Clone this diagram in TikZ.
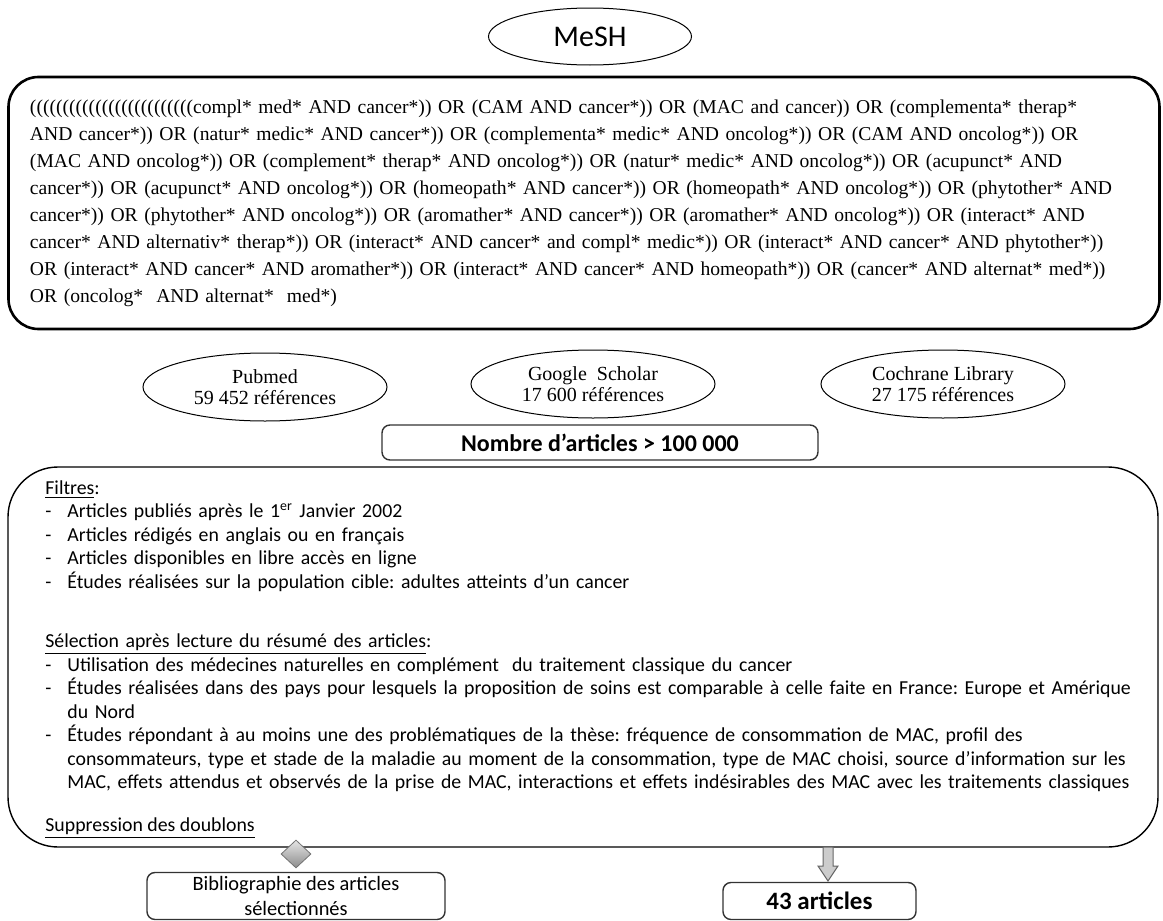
\documentclass[tikz,border=0pt]{standalone}
\usepackage{fontspec}
\setmainfont{Liberation Serif}
\newfontfamily\calibri{Carlito}
\usetikzlibrary{shapes.geometric}
\frenchspacing
\newlength{\qw}
\setlength{\qw}{554pt}
\newcommand{\qline}[1]{\makebox[\qw][s]{#1}}
\newcommand{\itm}{\makebox[11pt][l]{-}}
\newcommand{\ind}{\hspace*{11pt}}

\begin{document}
\begin{tikzpicture}
          [x=0.5pt,y=-0.5pt,
          oval/.style={shape=ellipse,draw=black,line width=0.5pt,inner sep=-8pt},
          source/.style={oval,minimum width=122pt,minimum height=34pt,align=center,font=\fontsize{10}{10.5}\selectfont},
          query/.style={draw=black,rounded corners=15pt,line width=1.3pt,inner xsep=10.75pt,inner ysep=0pt,minimum height=126pt,text width=554pt,align=left,font=\fontsize{9.8}{13.5}\selectfont},
          box/.style={draw=black!80,rounded corners=4pt,line width=0.7pt},
          arc/.style={draw=black!60,fill=black!20,line width=0.5pt}]

            \useasboundingbox (0,0) rectangle (1163,921);

            \node (mesh) [oval,minimum width=101.5pt,minimum height=28.5pt,inner sep=0pt,font=\calibri\fontsize{15}{17}\selectfont] at (590,36.5) {MeSH};

            \node (equation) [query] at (584,203) {%
\qline{(((((((((((((((((((((((((compl* med* AND cancer*)) OR (CAM AND cancer*)) OR (MAC and cancer)) OR (complementa* therap*}\\
\qline{AND cancer*)) OR (natur* medic* AND cancer*)) OR (complementa* medic* AND oncolog*)) OR (CAM AND oncolog*)) OR}\\
\qline{(MAC AND oncolog*)) OR (complement* therap* AND oncolog*)) OR (natur* medic* AND oncolog*)) OR (acupunct* AND}\\
\qline{cancer*)) OR (acupunct* AND oncolog*)) OR (homeopath* AND cancer*)) OR (homeopath* AND oncolog*)) OR (phytother* AND}\\
\qline{cancer*)) OR (phytother* AND oncolog*)) OR (aromather* AND cancer*)) OR (aromather* AND oncolog*)) OR (interact* AND}\\
\qline{cancer* AND alternativ* therap*)) OR (interact* AND cancer* and compl* medic*)) OR (interact* AND cancer* AND phytother*))}\\
\qline{OR (interact* AND cancer* AND aromather*)) OR (interact* AND cancer* AND homeopath*)) OR (cancer* AND alternat* med*))}\\
OR (oncolog*\ \ AND alternat*\ \ med*)};

            \node (pubmed) [source] at (265,387) {Pubmed\\59 452 références};
            \node (scholar) [source] at (593,384) {Google\ \ Scholar\\17 600 références};
            \node (cochrane) [source] at (943,384) {Cochrane Library\\27 175 références};

            \node (total) [box,minimum width=218pt,minimum height=17.5pt,inner sep=0pt,font=\calibri\bfseries\fontsize{12}{14}\selectfont] at (600,442.5) {Nombre d’articles > 100 000};

            \node (filtres) [draw=black,rounded corners=25pt,line width=0.7pt,minimum width=575pt,minimum height=190pt] at (583,657) {};
            \node (criteres) [anchor=north west,inner sep=0pt,text width=560pt,align=left,font=\calibri\fontsize{9.9}{11.75}\selectfont] at (45,480) {%
\underline{Filtres}:\\
\itm Articles publiés après le 1\textsuperscript{er} Janvier 2002\\
\itm Articles rédigés en anglais ou en français\\
\itm Articles disponibles en libre accès en ligne\\
\itm Études réalisées sur la population cible: adultes atteints d’un cancer\\[18pt]
\underline{Sélection après lecture du résumé des articles}:\\
\itm Utilisation des médecines naturelles en complément\ \ du traitement classique du cancer\\
\itm Études réalisées dans des pays pour lesquels la proposition de soins est comparable à celle faite en France: Europe et Amérique\\
\ind du Nord\\
\itm Études répondant à au moins une des problématiques de la thèse: fréquence de consommation de MAC, profil des\\
\ind consommateurs, type et stade de la maladie au moment de la consommation, type de MAC choisi, source d’information sur les\\
\ind MAC, effets attendus et observés de la prise de MAC, interactions et effets indésirables des MAC avec les traitements classiques};
            \node (doublons) [anchor=base west,inner sep=0pt,font=\calibri\fontsize{9.9}{11.75}\selectfont] at (45,831) {\underline{Suppression des doublons}};

            \node (biblio) [box,minimum width=149pt,minimum height=23.5pt,inner sep=0pt,align=center,font=\calibri\fontsize{10.2}{12.5}\selectfont] at (296,896) {Bibliographie des articles\\sélectionnés};
            \node (articles) [box,minimum width=96.5pt,minimum height=18.5pt,inner sep=0pt,font=\calibri\bfseries\fontsize{12.5}{14}\selectfont] at (819.5,901) {43 articles};

            \node (tri) [diamond,draw=black!55,top color=black!10,bottom color=black!45,minimum width=15pt,minimum height=14pt,inner sep=0pt] at (biblio.north |- 0,854) {};

          \coordinate (arr) at (828,847);
          \draw [arc] (arr) ++(-5,0) -- ++(0,19) -- ++(-5,0) -- ++(10,15) -- ++(10,-15) -- ++(-5,0) -- ++(0,-19) -- cycle;

        \end{tikzpicture}
\end{document}
